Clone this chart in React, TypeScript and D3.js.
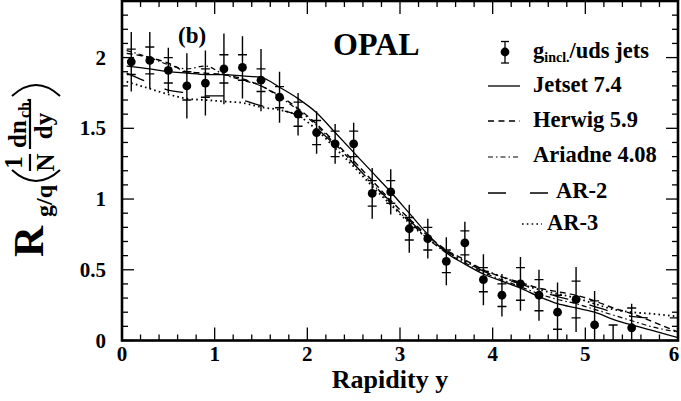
import React from "react";
import * as d3 from "d3";

// ---- data ----
const ptX = [0.1,0.3,0.5,0.7,0.9,1.1,1.3,1.5,1.7,1.9,2.1,2.3,2.5,2.7,2.9,3.1,3.3,3.5,3.7,3.9,4.1,4.3,4.5,4.7,4.9,5.1,5.3,5.5];
const ptY = [1.97,1.98,1.91,1.80,1.82,1.92,1.93,1.84,1.72,1.60,1.47,1.39,1.39,1.04,1.05,0.79,0.72,0.56,0.69,0.43,0.32,0.40,0.32,0.20,0.29,0.11,-0.06,0.09];
const errTot = [0.21,0.20,0.16,0.23,0.23,0.25,0.22,0.22,0.18,0.15,0.15,0.14,0.15,0.18,0.16,0.17,0.14,0.17,0.15,0.18,0.15,0.19,0.18,0.21,0.23,0.24,0.17,0.17];
const errStat = [0.09,0.095,0.09,0.10,0.10,0.10,0.09,0.08,0.075,0.085,0.085,0.09,0.09,0.09,0.08,0.08,0.08,0.08,0.085,0.085,0.08,0.115,0.11,0.12,0.13,0.17,0.17,0.14];

const curveX = [0.05,0.3,0.5,0.7,0.9,1.1,1.3,1.5,1.7,1.9,2.1,2.3,2.5,2.7,2.9,3.1,3.3,3.5,3.7,3.9,4.1,4.3,4.5,4.7,4.9,5.1,5.3,5.5,5.7,6.0];
const jetset = [1.94,1.92,1.90,1.89,1.88,1.88,1.87,1.86,1.79,1.71,1.61,1.47,1.33,1.19,1.05,0.90,0.75,0.62,0.54,0.47,0.42,0.37,0.31,0.26,0.23,0.20,0.15,0.11,0.075,0.02];
const herwig = [2.03,2.00,1.96,1.90,1.89,1.88,1.85,1.80,1.73,1.64,1.53,1.40,1.27,1.13,0.99,0.86,0.74,0.64,0.57,0.50,0.45,0.41,0.37,0.345,0.32,0.28,0.23,0.19,0.14,0.06];
const ariadne = [2.05,2.00,1.95,1.92,1.94,1.88,1.84,1.80,1.72,1.63,1.52,1.39,1.25,1.11,0.97,0.84,0.72,0.62,0.55,0.48,0.43,0.38,0.33,0.29,0.26,0.22,0.18,0.14,0.10,0.06];
const ar2 = [1.89,1.82,1.77,1.75,1.73,1.73,1.70,1.66,1.63,1.59,1.50,1.38,1.25,1.11,0.98,0.85,0.73,0.63,0.56,0.49,0.44,0.40,0.35,0.31,0.28,0.24,0.20,0.17,0.16,0.16];
const ar3 = [1.83,1.78,1.74,1.71,1.70,1.69,1.68,1.65,1.63,1.59,1.49,1.36,1.23,1.09,0.96,0.83,0.72,0.63,0.56,0.50,0.45,0.40,0.36,0.33,0.30,0.26,0.22,0.20,0.19,0.17];

const xTicks = [0, 1, 2, 3, 4, 5, 6];
const yTicks = [0, 0.5, 1, 1.5, 2];
const yTickLabels = ["0", "0.5", "1", "1.5", "2"];

const FONT = "'Liberation Serif', 'Times New Roman', serif";

export default function App() {
  const W = 681, H = 401;
  const x0 = 122, x1 = 678, yTop = 1, yBot = 340.5;
  const x = d3.scaleLinear().domain([0, 6]).range([x0, x1]);
  const y = d3.scaleLinear().domain([0, 2.4]).range([yBot, yTop]);

  const line = d3.line<number>()
    .x((_, i) => x(curveX[i]))
    .y((v) => y(v))
    .curve(d3.curveMonotoneX);

  const series = [
    { name: "Jetset 7.4", vals: jetset, dash: "none", w: 1.3 },
    { name: "Herwig 5.9", vals: herwig, dash: "6 4", w: 1.4 },
    { name: "Ariadne 4.08", vals: ariadne, dash: "5 3 1.5 3", w: 1.2 },
    { name: "AR-2", vals: ar2, dash: "19 22", w: 1.3 },
    { name: "AR-3", vals: ar3, dash: "1.6 3.2", w: 1.8 },
  ];

  const xMinor = d3.range(0, 6.0001, 0.2);
  const yMinor = d3.range(0, 2.4001, 0.1);

  const ticks: JSX.Element[] = [];
  xMinor.forEach((v, i) => {
    const major = Math.abs(v - Math.round(v)) < 1e-6;
    const L = major ? 13 : 6;
    ticks.push(<line key={"xb" + i} x1={x(v)} x2={x(v)} y1={yBot} y2={yBot - L} stroke="#000" strokeWidth={1.3} />);
    ticks.push(<line key={"xt" + i} x1={x(v)} x2={x(v)} y1={yTop} y2={yTop + L} stroke="#000" strokeWidth={1.3} />);
  });
  yMinor.forEach((v, i) => {
    const major = Math.abs(v * 2 - Math.round(v * 2)) < 1e-6;
    const L = major ? 12 : 6;
    ticks.push(<line key={"yl" + i} x1={x0} x2={x0 + L} y1={y(v)} y2={y(v)} stroke="#000" strokeWidth={1.3} />);
    ticks.push(<line key={"yr" + i} x1={x1} x2={x1 - L} y1={y(v)} y2={y(v)} stroke="#000" strokeWidth={1.3} />);
  });

  const legX1 = 488, legX2 = 520, legText = 533;
  const legRows = [
    { y: 86, ty: 92 },
    { y: 121, ty: 127 },
    { y: 157, ty: 162 },
    { y: 193, ty: 198 },
    { y: 224, ty: 230 },
  ];

  return (
    <svg width={W} height={H} style={{ position: "absolute", left: 0, top: 0, background: "#fff" }} fontFamily={FONT}>
      <defs>
        <clipPath id="plotclip">
          <rect x={x0} y={yTop} width={x1 - x0} height={yBot - yTop} />
        </clipPath>
      </defs>
      <rect x={0} y={0} width={W} height={H} fill="#fff" />

      {/* curves */}
      <g clipPath="url(#plotclip)" fill="none" stroke="#000">
        {series.map((s) => (
          <path key={s.name} d={line(s.vals) || ""} strokeDasharray={s.dash} strokeWidth={s.w} />
        ))}
      </g>

      {/* data points */}
      <g clipPath="url(#plotclip)" stroke="#000">
        {ptX.map((px, i) => {
          const cx = x(px);
          return (
            <g key={"p" + i}>
              <line x1={cx} x2={cx} y1={y(ptY[i] - errTot[i])} y2={y(ptY[i] + errTot[i])} strokeWidth={1.4} />
              <line x1={cx - 4.5} x2={cx + 4.5} y1={y(ptY[i] - errStat[i])} y2={y(ptY[i] - errStat[i])} strokeWidth={1.4} />
              <line x1={cx - 4.5} x2={cx + 4.5} y1={y(ptY[i] + errStat[i])} y2={y(ptY[i] + errStat[i])} strokeWidth={1.4} />
              <circle cx={cx} cy={y(ptY[i])} r={4.4} fill="#000" stroke="none" />
            </g>
          );
        })}
      </g>

      {/* frame and ticks */}
      {ticks}
      <rect x={x0} y={yTop} width={x1 - x0} height={yBot - yTop} fill="none" stroke="#000" strokeWidth={2.6} />

      {/* tick labels */}
      <g fontWeight="bold" fontSize={21} fill="#000">
        {xTicks.map((v) => (
          <text key={"xl" + v} x={v === 6 ? 674 : x(v)} y={361} textAnchor="middle">{v}</text>
        ))}
        {yTicks.map((v, i) => (
          <text key={"yl" + v} x={106} y={y(v) + 7} textAnchor="end">{yTickLabels[i]}</text>
        ))}
      </g>

      {/* x axis title */}
      <text x={390} y={388} textAnchor="middle" fontWeight="bold" fontSize={26}>Rapidity y</text>

      {/* y axis title (rotated) */}
      <g transform="rotate(-90)" fontWeight="bold" fill="#000">
        <text x={-257} y={43} fontSize={43}>R</text>
        <text x={-217} y={52} fontSize={24}>g/q</text>
        <path d="M -170 12 Q -192 36 -170 60" fill="none" stroke="#000" strokeWidth={2} />
        <text x={-162.5} y={22} fontSize={25} textAnchor="middle">1</text>
        <line x1={-171} x2={-154} y1={30} y2={30} stroke="#000" strokeWidth={2.2} />
        <text x={-162.5} y={54} fontSize={25} textAnchor="middle">N</text>
        <text x={-148} y={26} fontSize={25}>dn</text>
        <text x={-118} y={30} fontSize={16}>ch.</text>
        <line x1={-149} x2={-99} y1={30} y2={30} stroke="#000" strokeWidth={2.2} />
        <text x={-126} y={52} fontSize={25} textAnchor="middle">dy</text>
        <path d="M -96 12 Q -74 36 -96 60" fill="none" stroke="#000" strokeWidth={2} />
      </g>

      {/* annotations */}
      <text x={178} y={43} fontWeight="bold" fontSize={23}>(b)</text>
      <text x={333} y={55} fontWeight="bold" fontSize={32}>OPAL</text>

      {/* legend */}
      <g stroke="#000">
        <line x1={505} x2={505} y1={41.5} y2={63} strokeWidth={1.3} />
        <line x1={501} x2={509} y1={41.5} y2={41.5} strokeWidth={1.3} />
        <line x1={501} x2={509} y1={63} y2={63} strokeWidth={1.3} />
        <circle cx={505} cy={52} r={4.4} fill="#000" stroke="none" />
        <line x1={legX1} x2={legX2} y1={legRows[0].y} y2={legRows[0].y} strokeWidth={1.3} />
        <line x1={legX1} x2={legX2} y1={legRows[1].y} y2={legRows[1].y} strokeWidth={1.6} strokeDasharray="6 4.5" />
        <line x1={legX1} x2={legX2} y1={legRows[2].y} y2={legRows[2].y} strokeWidth={1.2} strokeDasharray="5 3 1.5 3" />
        <line x1={legX1} x2={550} y1={legRows[3].y} y2={legRows[3].y} strokeWidth={1.3} strokeDasharray="18 24" />
        <line x1={522} x2={542} y1={legRows[4].y} y2={legRows[4].y} strokeWidth={1.6} strokeDasharray="1.6 3.2" />
      </g>
      <g fontWeight="bold" fontSize={22.5} fill="#000">
        <text x={legText} y={58}>g<tspan fontSize={14} dy={4}>incl.</tspan><tspan dy={-4}>/uds jets</tspan></text>
        <text x={legText} y={legRows[0].ty}>Jetset 7.4</text>
        <text x={legText} y={legRows[1].ty}>Herwig 5.9</text>
        <text x={legText} y={legRows[2].ty}>Ariadne 4.08</text>
        <text x={556} y={legRows[3].ty}>AR-2</text>
        <text x={547} y={legRows[4].ty}>AR-3</text>
      </g>
    </svg>
  );
}
